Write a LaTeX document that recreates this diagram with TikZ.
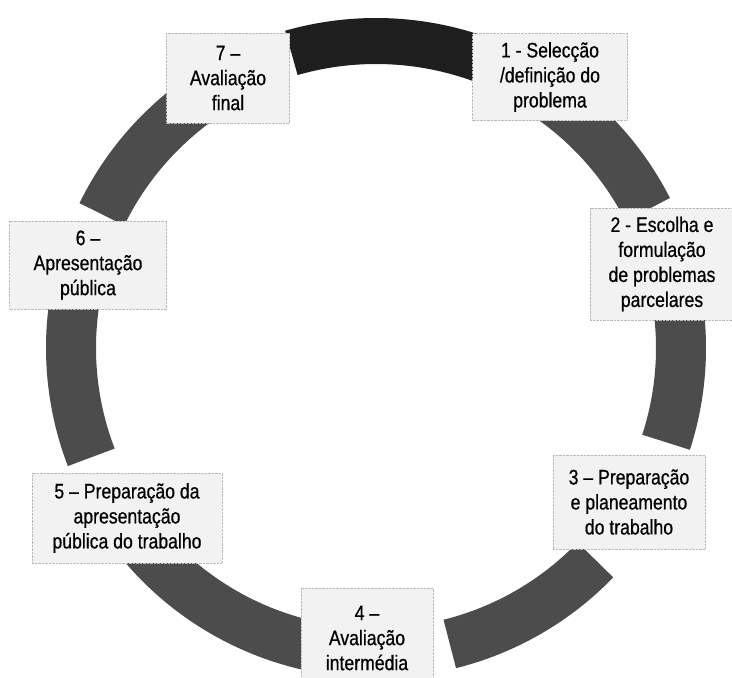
\documentclass[tikz,border=0pt]{standalone}
\usepackage{fontspec}
\setmainfont[FakeStretch=0.84,FakeBold=0.6]{Liberation Sans}
\begin{document}
\begin{tikzpicture}[x=1pt,y=-1pt,
  seg/.style={line width=50pt, draw=black!70},
  segdark/.style={line width=46pt, draw=black!88},
  box/.style={draw=gray!55, densely dotted, fill=gray!10, align=center, inner sep=0pt,
    font=\fontsize{21}{25}\selectfont}]
\useasboundingbox (0,0) rectangle (732,678);
\coordinate (c) at (376,348);
% ring segments
\draw[segdark] (c) ++(254:307) arc[start angle=254, end angle=292, radius=307];
\draw[seg] (c) ++(300:305) arc[start angle=300, end angle=333, radius=305];
\draw[seg] (c) ++(-10:305) arc[start angle=-10, end angle=18, radius=305];
\draw[seg] (c) ++(44:305) arc[start angle=44, end angle=76, radius=305];
\draw[seg] (c) ++(100:305) arc[start angle=100, end angle=142, radius=305];
\draw[seg] (c) ++(159:305) arc[start angle=159, end angle=190, radius=305];
\draw[seg] (c) ++(206:305) arc[start angle=206, end angle=240, radius=305];
% boxes
\node[box, minimum width=155, minimum height=87] (b1) at (550,77) {1 - Selecção\\/definição do\\problema};
\node[box, minimum width=144, minimum height=112] (b2) at (662,264) {2 - Escolha e\\formulação\\de problemas\\parcelares};
\node[box, minimum width=152, minimum height=94] (b3) at (629,502) {3 – Preparação\\e planeamento\\do trabalho};
\node[box, minimum width=132, minimum height=100] (b4) at (367,638) {4 –\\Avaliação\\intermédia};
\node[box, minimum width=190, minimum height=90] (b5) at (127,518) {5 – Preparação da\\apresentação\\pública do trabalho};
\node[box, minimum width=157, minimum height=88] (b6) at (88,265) {6 –\\Apresentação\\pública};
\node[box, minimum width=123, minimum height=90] (b7) at (228,78) {7 –\\Avaliação\\final};
\end{tikzpicture}
\end{document}
